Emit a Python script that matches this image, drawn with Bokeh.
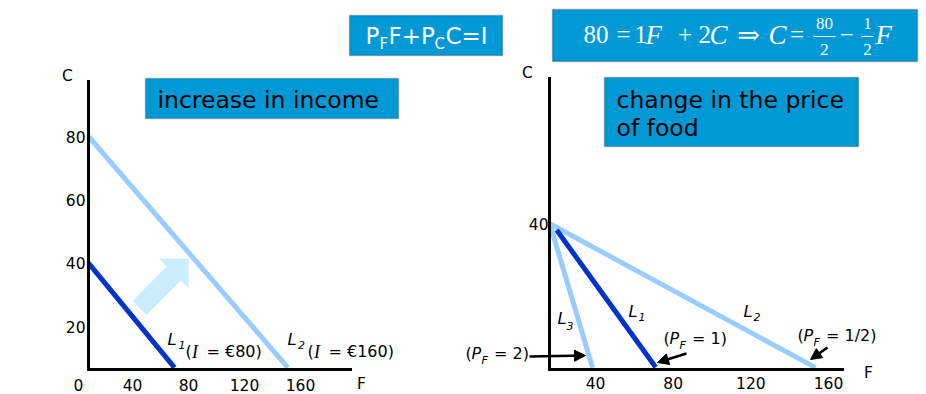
import math
from bokeh.plotting import figure
from bokeh.models import (Range1d, LinearAxis, FixedTicker, Label, BoxAnnotation,
                          PolyAnnotation, Arrow, NormalHead)
from bokeh.embed import file_html
from bokeh.resources import INLINE

# ---------------- data ----------------
# left panel: increase in income
left_F_ticks = [40, 80, 120, 160]
left_C_ticks = [20, 40, 60, 80]
left_L1_F = [8.6, 70]
left_L1_C = [40, 7]
left_L2_F = [8.6, 151]
left_L2_C = [80, 7]

# right panel: change in the price of food
right_F_ticks = [40, 80, 120, 160]
right_C_ticks = [40]
right_L1_F = [20, 71]
right_L1_C = [38.2, 0.6]
right_L2_F = [16.3, 153.3]
right_L2_C = [40, 0.5]
right_L3_F = [17, 38.5]
right_L3_C = [39, 0.5]

W, H = 926, 394
LIGHT = "#99CCFF"
DARK = "#0033CC"
BOX = "#0099D5"
BOX_LINE = "#22394D"
SANS = "DejaVu Sans"
SERIF = "Liberation Serif"


def lin_range(px_a, v_a, px_b, v_b, px_start, px_end):
    k = (v_b - v_a) / (px_b - px_a)
    return Range1d(start=v_a + (px_start - px_a) * k, end=v_a + (px_end - px_a) * k)


def px_to_val(rng, px, px_start, px_end):
    return rng.start + (px - px_start) * (rng.end - rng.start) / (px_end - px_start)


p = figure(width=W, height=H, x_range=Range1d(0, W), y_range=Range1d(H, 0),
           output_backend="svg", toolbar_location=None,
           x_axis_type=None, y_axis_type=None, min_border=0)
p.outline_line_color = None
p.background_fill_color = "white"
p.border_fill_color = "white"

# coordinate systems of the two panels (tick positions on the slide)
lx = lin_range(132, 40, 300, 160, 0, W)
ly = lin_range(136, 80, 326, 20, H, 0)
rx = lin_range(595, 40, 828, 160, 0, W)
ry = lin_range(223, 40, 369, 0, H, 0)
p.extra_x_ranges = {"lx": lx, "rx": rx}
p.extra_y_ranges = {"ly": ly, "ry": ry}


def add_axes(xr, yr, xrng, yrng, yaxis_px, xaxis_px, x_end_px, y_top_px,
             fticks, cticks, xstand, ystand):
    f_at_axis = px_to_val(xrng, yaxis_px, 0, W)
    c_at_axis = px_to_val(yrng, xaxis_px, H, 0)
    f_end = px_to_val(xrng, x_end_px, 0, W)
    c_top = px_to_val(yrng, y_top_px, H, 0)
    common = dict(axis_line_width=3, axis_line_color="black", axis_line_cap="square",
                  major_tick_line_color=None, minor_tick_line_color=None,
                  major_tick_out=0, major_tick_in=0,
                  major_label_text_font=SANS, major_label_text_font_size="15.5px",
                  major_label_text_color="black")
    xa = LinearAxis(x_range_name=xr, y_range_name=yr, fixed_location=c_at_axis,
                    bounds=(f_at_axis, f_end), ticker=FixedTicker(ticks=fticks),
                    major_label_standoff=xstand, **common)
    ya = LinearAxis(x_range_name=xr, y_range_name=yr, fixed_location=f_at_axis,
                    bounds=(c_at_axis, c_top), ticker=FixedTicker(ticks=cticks),
                    major_label_standoff=ystand, **common)
    p.add_layout(xa, "below")
    p.add_layout(ya, "left")


add_axes("lx", "ly", lx, ly, 88, 369, 350, 81, left_F_ticks, left_C_ticks, 9, 3)
add_axes("rx", "ry", rx, ry, 549, 369, 842, 78, right_F_ticks, right_C_ticks, 7, 1)

# budget lines
p.line(left_L2_F, left_L2_C, x_range_name="lx", y_range_name="ly", line_width=5, line_color=LIGHT)
p.line(left_L1_F, left_L1_C, x_range_name="lx", y_range_name="ly", line_width=5, line_color=DARK)
p.line(right_L2_F, right_L2_C, x_range_name="rx", y_range_name="ry", line_width=5, line_color=LIGHT)
p.line(right_L3_F, right_L3_C, x_range_name="rx", y_range_name="ry", line_width=5, line_color=LIGHT)
p.line(right_L1_F, right_L1_C, x_range_name="rx", y_range_name="ry", line_width=5, line_color=DARK)


def lab(x, y, text, size, font=SANS, style="normal", color="black", align="left",
        baseline="middle"):
    p.add_layout(Label(x=x, y=y, text=text, text_font=font, text_font_size=f"{size}px",
                       text_font_style=style, text_color=color, text_align=align,
                       text_baseline=baseline))


def box(l, r, t, b):
    p.add_layout(BoxAnnotation(left=l, right=r, top=t, bottom=b, fill_color=BOX,
                               fill_alpha=1, line_color=BOX_LINE, line_width=1.5))


# axis letters and the lone "0"
lab(67, 75, "C", 15.5, align="center")
lab(361, 383, "F", 15.5, align="center")
lab(527, 72, "C", 15.5, align="center")
lab(868, 372, "F", 15.5, align="center")
lab(78, 384, "0", 15.5, align="center")

# boxes
box(145, 398, 78, 118)
lab(157, 99, "increase in income", 23.5)
box(604, 858, 77, 146)
lab(616, 99, "change in the price", 23.5)
lab(616, 127, "of food", 23.5)

box(349, 502, 15, 55)
lab(365, 35, "P", 23, color="white")
lab(379, 43, "F", 15, color="white")
lab(388, 35, "F+P", 23, color="white")
lab(434, 43, "C", 15, color="white")
lab(445, 35, "C=I", 23, color="white")

box(552, 917, 9, 61)
W_ = "white"
lab(583, 34, "80", 25, font=SERIF, color=W_)
lab(623, 34, "=", 25, font=SERIF, color=W_, align="center")
lab(634, 34, "1", 25, font=SERIF, color=W_)
lab(645, 34, "F", 27, font=SERIF, style="italic", color=W_)
lab(684.5, 34, "+", 25, font=SERIF, color=W_, align="center")
lab(698, 34, "2", 25, font=SERIF, color=W_)
lab(709, 34, "C", 27, font=SERIF, style="italic", color=W_)
lab(748, 34, "⇒", 27, font="DejaVu Serif", color=W_, align="center")
lab(768, 34, "C", 27, font=SERIF, style="italic", color=W_)
lab(796.5, 34, "=", 25, font=SERIF, color=W_, align="center")
lab(824, 23, "80", 17, font=SERIF, color=W_, align="center")
lab(824, 49, "2", 17, font=SERIF, color=W_, align="center")
lab(846, 34, "−", 25, font=SERIF, color=W_, align="center")
lab(867, 23, "1", 17, font=SERIF, color=W_, align="center")
lab(867, 49, "2", 17, font=SERIF, color=W_, align="center")
lab(875, 34, "F", 27, font=SERIF, style="italic", color=W_)
for cx, half in ((824, 11), (867, 6)):
    p.add_layout(PolyAnnotation(xs=[cx - half, cx + half, cx + half, cx - half],
                                ys=[35.4, 35.4, 36.6, 36.6], fill_color=W_, fill_alpha=1,
                                line_color=None))


# line labels
def sub_label(x, y, main, sub, dx, dy, size=16.5, subsize=11):
    lab(x, y, main, size, style="italic")
    lab(x + dx, y + dy, sub, subsize, style="italic")


sub_label(167, 339, "L", "1", 11, 5)
lab(185, 351, "(", 16)
lab(191.5, 351, "I", 18, font=SERIF, style="italic")
lab(206, 351, "= €80)", 16)
sub_label(287, 339, "L", "2", 10.5, 5)
lab(307, 351, "(", 16)
lab(313.5, 351, "I", 18, font=SERIF, style="italic")
lab(328, 351, "= €160)", 16)

sub_label(557, 318, "L", "3", 9, 7)
sub_label(628, 311, "L", "1", 10, 5)
sub_label(743, 311, "L", "2", 10, 5)


def price_label(x, y, rest):
    lab(x, y, "(", 16)
    lab(x + 6, y, "P", 16, style="italic")
    lab(x + 16, y + 7, "F", 11, style="italic")
    lab(x + 28.5, y, rest, 16)


price_label(465, 353, "= 2)")
price_label(663, 338, "= 1)")
price_label(797, 335, "= 1/2)")

# black pointer arrows
for xs, ys, xe, ye in ((529, 356, 585, 355), (686, 353, 657, 362), (827, 347, 810, 359)):
    p.add_layout(Arrow(end=NormalHead(size=11, fill_color="black", line_color="black"),
                       x_start=xs, y_start=ys, x_end=xe, y_end=ye,
                       line_width=2.5, line_color="black"))

# block arrow (income increase)
tail = (139, 307.5)
tip = (188, 258)
shaft_w, head_w, head_l = 20, 42, 21
dx, dy = tip[0] - tail[0], tip[1] - tail[1]
ln = math.hypot(dx, dy)
ux, uy = dx / ln, dy / ln
nx, ny = -uy, ux
bx, by = tip[0] - ux * head_l, tip[1] - uy * head_l
pts = [
    (tail[0] + nx * shaft_w / 2, tail[1] + ny * shaft_w / 2),
    (bx + nx * shaft_w / 2, by + ny * shaft_w / 2),
    (bx + nx * head_w / 2, by + ny * head_w / 2),
    tip,
    (bx - nx * head_w / 2, by - ny * head_w / 2),
    (bx - nx * shaft_w / 2, by - ny * shaft_w / 2),
    (tail[0] - nx * shaft_w / 2, tail[1] - ny * shaft_w / 2),
]
p.add_layout(PolyAnnotation(xs=[q[0] for q in pts], ys=[q[1] for q in pts],
                            fill_color="#CCECFF", fill_alpha=1, line_color=None))

open("out.html", "w").write(file_html(p, INLINE))
